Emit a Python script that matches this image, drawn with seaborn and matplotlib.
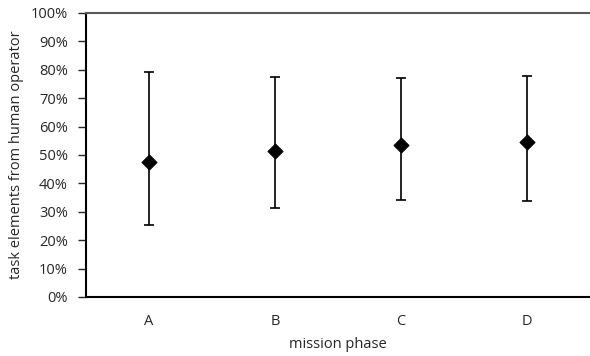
import matplotlib
matplotlib.use("Agg")
import matplotlib.pyplot as plt
import seaborn as sns
import pandas as pd
from matplotlib.ticker import PercentFormatter

# values (fractions)
phases = ["A", "B", "C", "D"]
means = [0.475, 0.514, 0.535, 0.545]
upper = [0.792, 0.775, 0.771, 0.778]
lower = [0.254, 0.313, 0.342, 0.338]

df = pd.DataFrame({"phase": phases, "mean": means, "upper": upper, "lower": lower})

sns.set_style("white")
plt.rcParams['font.family'] = ['Open Sans', 'DejaVu Sans']

fig = plt.figure(figsize=(5.9, 3.56), dpi=100)
ax = fig.add_axes([86 / 590, 1 - 297 / 356, (590 - 86) / 590, (297 - 13) / 356])

# error bars first, then diamonds on top
ax.errorbar(df["phase"], df["mean"],
            yerr=[df["mean"] - df["lower"], df["upper"] - df["mean"]],
            fmt="none", ecolor="black", elinewidth=1.2, capsize=3.7, capthick=1.2, zorder=2)
sns.scatterplot(data=df, x="phase", y="mean", marker="D", s=60, color="black",
                edgecolor="black", ax=ax, zorder=3)

ax.set_xlim(-0.5, 3.5)
ax.set_ylim(0, 1)
ax.set_yticks([i / 10 for i in range(11)])
ax.yaxis.set_major_formatter(PercentFormatter(1.0, decimals=0))

fs = 10.5
ax.set_xlabel("mission phase", fontsize=fs, labelpad=6)
ax.set_ylabel("task elements from human operator", fontsize=fs, labelpad=5)
ax.tick_params(axis="y", labelsize=fs, length=6, width=1, direction="out", left=True, pad=7)
ax.tick_params(axis="x", labelsize=fs, length=0, pad=12)

for side in ["left", "bottom"]:
    ax.spines[side].set_color("black")
    ax.spines[side].set_linewidth(1.5)
ax.spines["top"].set_color("#595959")
ax.spines["top"].set_linewidth(1.5)
ax.spines["right"].set_visible(False)

fig.savefig("out.png", dpi=100)
